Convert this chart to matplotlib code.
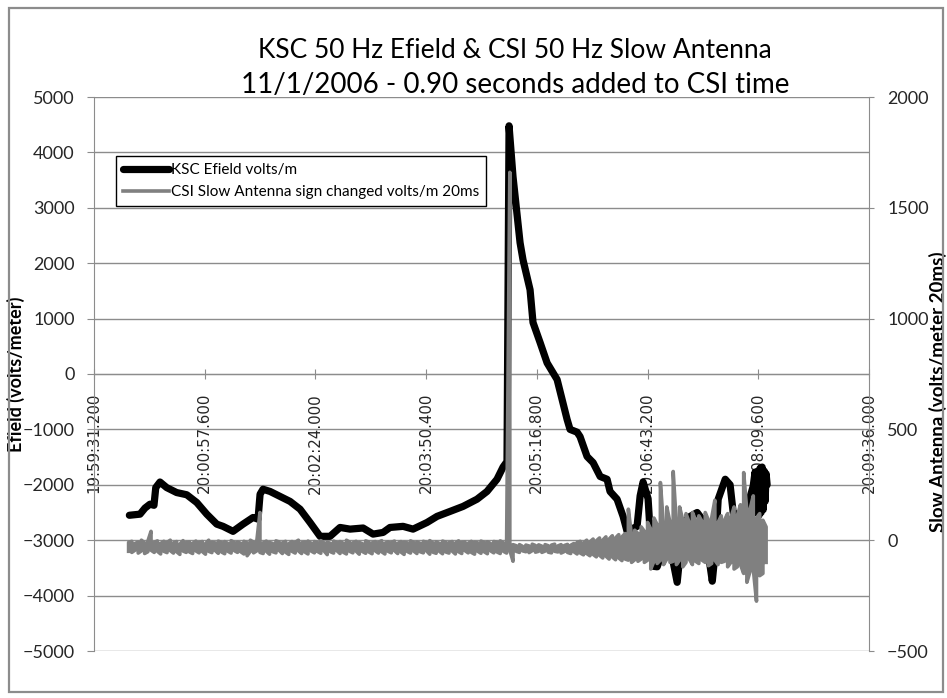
import matplotlib
matplotlib.use('Agg')
import matplotlib.pyplot as plt
import numpy as np
from matplotlib.lines import Line2D
from matplotlib.patches import Rectangle

# ---------------- data ----------------
T0 = 71971.2  # 19:59:31.200 in seconds of day (axis origin)

x_tick_labels = ['19:59:31.200', '20:00:57.600', '20:02:24.000', '20:03:50.400',
                 '20:05:16.800', '20:06:43.200', '20:08:09.600', '20:09:36.000']
left_ticks = [-5000, -4000, -3000, -2000, -1000, 0, 1000, 2000, 3000, 4000, 5000]
right_ticks = [-500, 0, 500, 1000, 1500, 2000]

# KSC Efield (volts/m): time offset (s after 19:59:31.200) and value
ksc_t = [27.6, 35.9, 39.8, 43.7, 46.8, 48.2, 51.5, 56.7, 64.5, 72.4, 80.2, 88.0, 95.8,
         100.7, 108.5, 116.3, 124.1, 128.0, 129.6, 131.9, 137.4, 145.2, 153.0, 160.8,
         168.6, 176.4, 184.2, 192.0, 199.8, 210.0, 217.8, 225.6, 231.0, 241.2, 249.0,
         259.9, 267.7, 277.9, 288.0, 298.9, 306.7, 314.5, 319.2, 322.3, 323.9, 327.0,
         332.5, 334.8, 340.3, 342.6, 348.1, 353.6, 361.4, 369.2, 371.5, 377.0, 379.3,
         384.8, 389.5, 395.0, 400.4, 402.7, 408.2, 412.9, 416.0, 423.8, 426.2, 428.5,
         432.4, 434.0, 436.3, 439.5, 445.7, 451.2, 455.1, 459.8, 465.3, 470.7, 474.6,
         478.6, 482.5, 484.8, 487.1, 492.6, 496.4, 498.8, 504.2, 509.7, 514.4, 515.9,
         517.0, 518.3, 519.0, 519.8, 520.6, 521.4, 522.2, 523.0, 523.7, 524.5, 525.3]
ksc_v = [-2550, -2530, -2420, -2350, -2370, -2050, -1950, -2050, -2140, -2180, -2320,
         -2530, -2710, -2750, -2840, -2710, -2590, -2620, -2170, -2080, -2120, -2210,
         -2300, -2440, -2680, -2930, -2930, -2770, -2800, -2780, -2890, -2860, -2770,
         -2750, -2800, -2680, -2570, -2480, -2390, -2260, -2120, -1900, -1680, -1580,
         4480, 3560, 2370, 2060, 1520, 930, 570, 200, -100, -820, -1000, -1050, -1130,
         -1490, -1600, -1850, -1900, -2120, -2260, -2570, -2840, -2750, -2200, -1950,
         -2250, -2850, -3470, -3480, -3060, -3300, -3760, -2680, -2570, -2500, -2620,
         -3110, -3740, -3200, -2260, -1900, -2000, -2500, -2570, -2400, -2030, -1770,
         -2500, -1750, -2550, -1700, -2500, -1680, -2450, -1750, -2300, -1800, -2000]

# CSI slow antenna (volts/m 20ms): max / min of the 50 Hz signal in bins of csi_dt seconds
csi_start = 27.0
csi_dt = 2.5
csi_hi = [
    -10, -5, -15, -8, 0, -12, -5, 40, -10, -3,
    -15, -5, -10, 0, -12, -6, -18, -2, -10, -8,
    -14, -4, -10, -6, -16, 0, -9, -12, -4, -10,
    -6, -15, -2, -10, -8, -14, -5, -12, 0, -9,
    -6, 125, -12, -4, -10, -15, -3, -8, -12, -5,
    -16, -6, -10, 0, -12, -8, -4, -14, -6, -10,
    -2, -12, -8, -15, -4, -10, -6, -14, 0, -9,
    -12, -5, -10, -16, -3, -8, -12, -6, -10, -2,
    -14, -7, -10, -4, -15, -6, -9, -12, -3, -10,
    -8, -14, -5, -10, -2, -12, -7, -15, -4, -9,
    -11, -6, -13, -3, -10, -8, -14, -5, -9, -12,
    -4, -10, -7, -15, -6, -9, -3, -12, -8, 1660,
    -20, -25, -20, -28, -22, -26, -18, -24, -21, -27,
    -20, -25, -22, -18, -26, -20, -24, -19, -23, -15,
    -10, -5, -12, 0, -8, 5, -3, 10, 0, 15,
    5, 20, 10, 25, 15, 30, 140, 20, 45, 30,
    60, 40, 80, 50, 100, 70, 260, 60, 150, 80,
    310, 70, 150, 90, 120, 80, 125, 90, 110, 85,
    125, 90, 100, 180, 80, 110, 90, 120, 100, 150,
    110, 160, 305, 130, 140, 200, 100, 120, 90, 60]
csi_lo = [
    -50, -55, -45, -58, -48, -60, -52, -45, -55, -50,
    -62, -50, -56, -47, -58, -52, -64, -49, -55, -53,
    -60, -48, -57, -51, -63, -50, -56, -46, -59, -53,
    -61, -50, -58, -47, -55, -52, -62, -70, -50, -57,
    -48, -55, -60, -50, -63, -52, -57, -46, -60, -54,
    -64, -50, -58, -48, -60, -53, -62, -49, -57, -51,
    -59, -48, -65, -52, -58, -47, -60, -54, -62, -50,
    -57, -49, -63, -51, -59, -53, -61, -48, -58, -52,
    -62, -50, -57, -47, -60, -53, -64, -51, -58, -49,
    -60, -52, -57, -48, -63, -54, -59, -50, -61, -53,
    -58, -49, -62, -52, -60, -47, -57, -55, -63, -50,
    -59, -52, -61, -48, -57, -53, -60, -50, -58, -45,
    -95, -50, -55, -48, -52, -56, -47, -54, -50, -55,
    -49, -54, -57, -50, -53, -58, -51, -55, -60, -52,
    -62, -58, -66, -60, -70, -64, -75, -68, -80, -72,
    -85, -76, -88, -80, -92, -85, -90, -100, -88, -95,
    -85, -100, -90, -130, -95, -105, -90, -110, -85, -100,
    -95, -110, -90, -120, -100, -85, -110, -95, -105, -90,
    -100, -115, -105, -90, -110, -100, -95, -120, -100, -130,
    -120, -110, -150, -190, -140, -130, -275, -160, -150, -100]

title1 = 'KSC 50 Hz Efield & CSI 50 Hz Slow Antenna'
title2 = '11/1/2006 - 0.90 seconds added to CSI time'
label_ksc = 'KSC Efield volts/m'
label_csi = 'CSI Slow Antenna sign changed volts/m 20ms'
ylabel_left = 'Efield (volts/meter)'
ylabel_right = 'Slow Antenna (volts/meter 20ms)'


def parse_time(s):
    h, m, sec = s.split(':')
    return int(h) * 3600 + int(m) * 60 + float(sec)


# ---------------- figure ----------------
plt.rcParams['font.family'] = ['Lato', 'DejaVu Sans']
W, H = 947, 698
fig = plt.figure(figsize=(W / 100, H / 100), dpi=100)
fig.patch.set_facecolor('white')

ax = fig.add_axes([94 / W, 1 - 651 / H, (869 - 94) / W, (651 - 97) / H])
ax2 = ax.twinx()

GRAY = '#8c8c8c'
TXT = '#262626'
SERIES_GRAY = '#808080'

x_pos = [parse_time(s) for s in x_tick_labels]
ax.set_xlim(x_pos[0], x_pos[-1])
ax.set_ylim(-5000, 5000)
ax2.set_ylim(-500, 2000)

ax.plot(T0 + np.array(ksc_t), ksc_v, color='black', lw=5.2,
        solid_joinstyle='round', solid_capstyle='round', zorder=3)

# min/max trace of the CSI signal: each bin drawn as a vertical stroke, alternating direction
csi_t = T0 + csi_start + np.arange(len(csi_hi)) * csi_dt
path_t, path_v = [], []
for i, (t, hi, lo) in enumerate(zip(csi_t, csi_hi, csi_lo)):
    path_t += [t, t]
    path_v += [lo, hi] if i % 2 == 0 else [hi, lo]
ax2.plot(path_t, path_v, color=SERIES_GRAY, lw=2.6, solid_joinstyle='round')

# grid
ax.set_yticks(left_ticks)
ax.grid(axis='y', color=GRAY, lw=1)
ax.grid(axis='x', visible=False)
ax.set_axisbelow(True)

# spines
for s in ['top', 'right']:
    ax.spines[s].set_visible(False)
ax.spines['left'].set_color(GRAY)
ax.spines['bottom'].set_color(GRAY)
ax.spines['bottom'].set_position(('data', 0))
for s in ['top', 'left', 'bottom']:
    ax2.spines[s].set_visible(False)
ax2.spines['right'].set_color(GRAY)

# x ticks
ax.set_xticks(x_pos, labels=x_tick_labels, fontfamily='DejaVu Sans')
ax.tick_params(axis='x', direction='inout', length=7.2, color=GRAY, pad=10,
               labelsize=10.8, labelrotation=90, labelcolor=TXT)

# y ticks
ax.tick_params(axis='y', direction='out', length=5, color=GRAY, pad=9,
               labelsize=13, labelcolor=TXT)
ax2.set_yticks(right_ticks)
ax2.tick_params(axis='y', direction='out', length=3.6, color=GRAY, pad=9.4,
                labelsize=13, labelcolor=TXT)

ax.set_ylabel(ylabel_left, fontsize=13, fontweight='bold', color='black')
ax.yaxis.set_label_coords((25 - 94) / 775, (651 - 374) / 554)
ax2.set_ylabel(ylabel_right, fontsize=13.5, fontweight='bold', color='black')
ax2.yaxis.set_label_coords((929 - 94) / 775, (651 - 392) / 554)

# titles
fig.text(515 / W, 1 - 58 / H, title1, ha='center', va='baseline', fontsize=19, color='black')
fig.text(515 / W, 1 - 93 / H, title2, ha='center', va='baseline', fontsize=20, color='black')

# legend
handles = [Line2D([], [], color='black', lw=5.2, solid_capstyle='round'),
           Line2D([], [], color=SERIES_GRAY, lw=2.6)]
leg = ax2.legend(handles, [label_ksc, label_csi], loc='upper left',
                 bbox_to_anchor=(116 / W, 1 - 156 / H), bbox_transform=fig.transFigure,
                 borderaxespad=0, frameon=True, fancybox=False, fontsize=11,
                 handlelength=3.0, handletextpad=0.15, borderpad=0.45,
                 labelspacing=0.55)
leg.get_frame().set_edgecolor('black')
leg.get_frame().set_linewidth(1.0)
leg.get_frame().set_facecolor('white')
leg.get_frame().set_alpha(1)

# chart border
fig.patches.append(Rectangle((9 / W, 1 - 692 / H), (943 - 9) / W, (692 - 8) / H,
                             transform=fig.transFigure, fill=False,
                             edgecolor=GRAY, lw=1.6))

fig.savefig('out.png', dpi=100, facecolor='white')
